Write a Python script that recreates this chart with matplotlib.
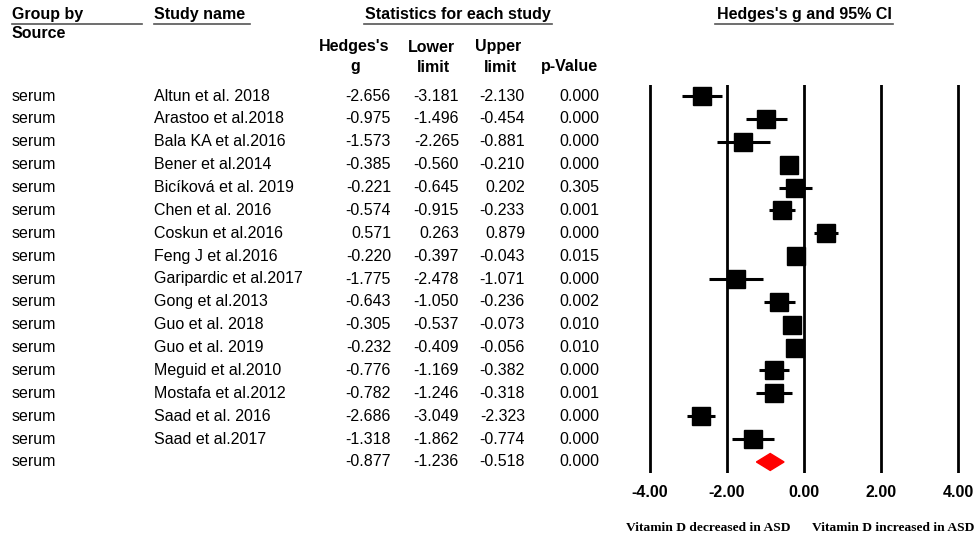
import matplotlib
matplotlib.use('Agg')
import matplotlib.pyplot as plt
from matplotlib.lines import Line2D
from matplotlib.patches import Polygon
from matplotlib.transforms import blended_transform_factory

plt.rcParams['font.family'] = ['Liberation Sans', 'DejaVu Sans']

# data
groups = ['serum'] * 17
studies = ['Altun et al. 2018', 'Arastoo et al.2018', 'Bala KA et al.2016',
           'Bener et al.2014', 'Bicíková et al. 2019', 'Chen et al. 2016',
           'Coskun et al.2016', 'Feng J et al.2016', 'Garipardic et al.2017',
           'Gong et al.2013', 'Guo et al. 2018', 'Guo et al. 2019',
           'Meguid et al.2010', 'Mostafa et al.2012', 'Saad et al. 2016',
           'Saad et al.2017', '']
hedges_g = [-2.656, -0.975, -1.573, -0.385, -0.221, -0.574, 0.571, -0.220,
            -1.775, -0.643, -0.305, -0.232, -0.776, -0.782, -2.686, -1.318,
            -0.877]
lower = [-3.181, -1.496, -2.265, -0.560, -0.645, -0.915, 0.263, -0.397,
         -2.478, -1.050, -0.537, -0.409, -1.169, -1.246, -3.049, -1.862,
         -1.236]
upper = [-2.130, -0.454, -0.881, -0.210, 0.202, -0.233, 0.879, -0.043,
         -1.071, -0.236, -0.073, -0.056, -0.382, -0.318, -2.323, -0.774,
         -0.518]
p_values = [0.000, 0.000, 0.000, 0.000, 0.305, 0.001, 0.000, 0.015,
            0.000, 0.002, 0.010, 0.010, 0.000, 0.001, 0.000, 0.000, 0.000]
xticks = [-4, -2, 0, 2, 4]

W, H = 977, 540
FS = 11.5

fig = plt.figure(figsize=(W / 100, H / 100), dpi=100)

def fx(px):
    return px / W

def fy(py):
    return 1 - py / H

# forest plot panel
ax = fig.add_axes([fx(630.75), fy(473.4), 346.5 / W, (473.4 - 84.6) / H])
ax.set_xlim(-4.5, 4.5)
ax.set_ylim(-16.5, 0.5)
for s in ax.spines.values():
    s.set_visible(False)
ax.set_yticks([])
ax.set_xticks(xticks)
ax.set_xticklabels(['%.2f' % t for t in xticks], fontsize=FS, fontweight='bold')
ax.tick_params(axis='x', length=0, pad=8)
for t in xticks:
    ax.axvline(t, color='black', lw=2, zorder=1)

n_studies = len(hedges_g) - 1
for i in range(n_studies):
    y = -i
    ax.plot([lower[i], upper[i]], [y, y], color='black', lw=2.2, zorder=2,
            solid_capstyle='butt')
    ax.plot(hedges_g[i], y, marker='s', ms=13, color='black', zorder=3)

# summary diamond
ys = -n_studies
h = 0.37
diamond = Polygon([[lower[-1], ys], [hedges_g[-1], ys + h],
                   [upper[-1], ys], [hedges_g[-1], ys - h]],
                  closed=True, color='#ff0000', zorder=3)
ax.add_patch(diamond)

# table text
tr = blended_transform_factory(fig.transFigure, ax.transData)
for i in range(len(hedges_g)):
    y = -i
    ax.text(fx(12), y, groups[i], transform=tr, fontsize=FS, va='center', ha='left')
    ax.text(fx(154), y, studies[i], transform=tr, fontsize=FS, va='center', ha='left')
    ax.text(fx(391), y, '%.3f' % hedges_g[i], transform=tr, fontsize=FS, va='center', ha='right')
    ax.text(fx(459), y, '%.3f' % lower[i], transform=tr, fontsize=FS, va='center', ha='right')
    ax.text(fx(525), y, '%.3f' % upper[i], transform=tr, fontsize=FS, va='center', ha='right')
    ax.text(fx(599), y, '%.3f' % p_values[i], transform=tr, fontsize=FS, va='center', ha='right')

# headers
hdr = dict(fontsize=FS, fontweight='bold', va='center')
fig.text(fx(12), fy(15), 'Group by', ha='left', **hdr)
fig.text(fx(12), fy(33), 'Source', ha='left', **hdr)
fig.text(fx(154), fy(15), 'Study name', ha='left', **hdr)
fig.text(fx(458), fy(15), 'Statistics for each study', ha='center', **hdr)
fig.text(fx(804), fy(15), "Hedges's g and 95% CI", ha='center', **hdr)
fig.text(fx(354), fy(47), "Hedges's", ha='center', **hdr)
fig.text(fx(355), fy(67), 'g', ha='center', **hdr)
fig.text(fx(431), fy(47), 'Lower', ha='center', **hdr)
fig.text(fx(433), fy(67), 'limit', ha='center', **hdr)
fig.text(fx(498), fy(47), 'Upper', ha='center', **hdr)
fig.text(fx(500), fy(67), 'limit', ha='center', **hdr)
fig.text(fx(569), fy(67), 'p-Value', ha='center', **hdr)

# underlines
for x0, x1 in [(12, 142), (154, 250), (364, 552), (715, 893)]:
    fig.add_artist(Line2D([fx(x0), fx(x1)], [fy(24), fy(24)],
                          transform=fig.transFigure, color='#555555', lw=1.2))

# direction labels
lab = dict(fontsize=9.7, fontweight='bold', family='Liberation Serif', va='center')
fig.text(fx(708), fy(528), 'Vitamin D decreased in ASD', ha='center', **lab)
fig.text(fx(893), fy(528), 'Vitamin D increased in ASD', ha='center', **lab)

fig.savefig('out.png', dpi=100)
